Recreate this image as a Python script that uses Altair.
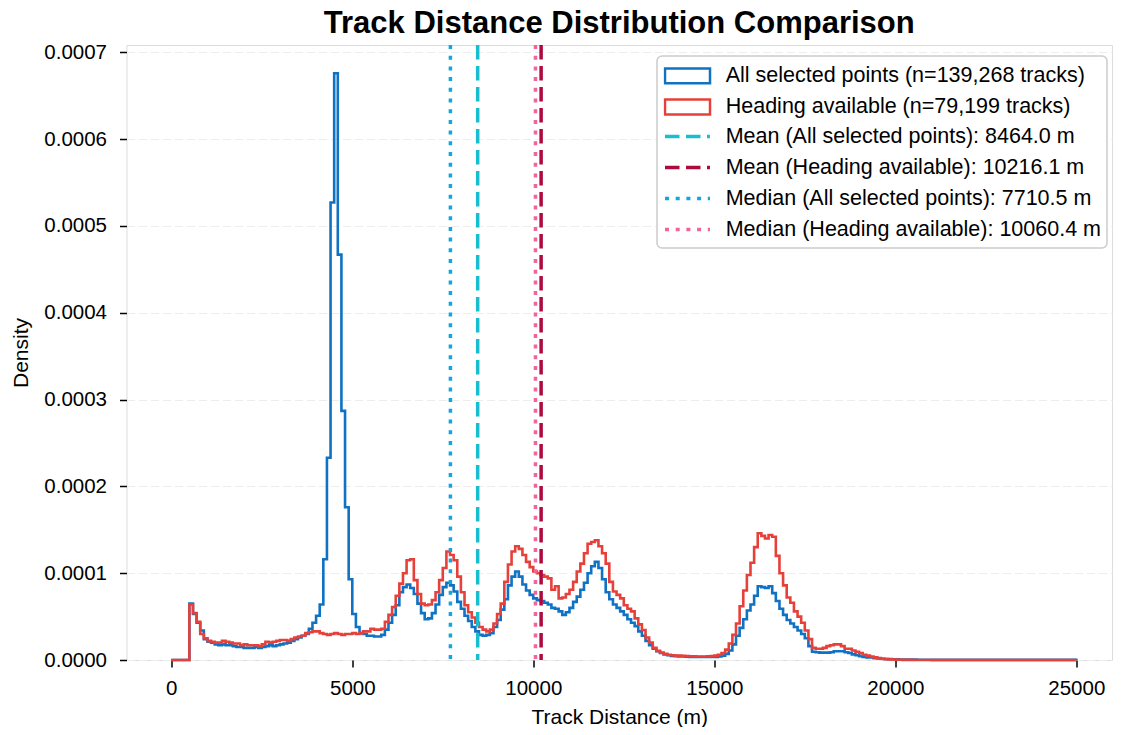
import altair as alt
import pandas as pd

FONT = "Liberation Sans"

# ---- data -------------------------------------------------------------
# histogram bin edges (m) : 250 bins of 100 m from 0 to 25000
bin_edges = list(range(0, 25001, 100))

# densities per bin, in units of 1e-5
all_selected_e5 = [
    0, 0, 0, 0, 0, 6.5, 5.3, 4.3, 3.4, 2.4,            # 0-900
    2.1, 2.0, 1.8, 1.7, 1.8, 1.7, 1.7, 1.6, 1.5, 1.5,  # 1000-1900
    1.4, 1.4, 1.4, 1.5, 1.4, 1.5, 1.6, 1.7, 1.6, 1.7,  # 2000-2900
    1.8, 1.9, 2.0, 2.2, 2.4, 2.6, 2.8, 3.0, 3.6, 4.3,  # 3000-3900
    5.1, 6.4, 11.6, 23.3, 52.7, 67.6, 46.7, 28.7, 17.6, 9.3,  # 4000-4900
    5.3, 3.8, 3.1, 3.0, 2.8, 2.8, 2.7, 2.7, 2.9, 3.5,  # 5000-5900
    4.3, 5.2, 6.3, 7.8, 8.4, 8.7, 8.3, 7.6, 6.5, 5.4,  # 6000-6900
    4.7, 4.8, 5.4, 6.4, 7.5, 8.4, 8.9, 8.6, 7.9, 6.7,  # 7000-7900
    5.9, 5.1, 4.5, 3.8, 3.3, 2.9, 2.8, 2.9, 3.1, 3.8,  # 8000-8900
    4.6, 5.8, 7.0, 8.6, 9.6, 10.2, 9.6, 8.7, 8.0, 7.5,  # 9000-9900
    7.1, 6.9, 6.8, 6.6, 6.4, 6.0, 5.9, 5.6, 5.2, 5.5,  # 10000-10900
    6.0, 6.7, 7.3, 8.1, 8.9, 10.0, 10.8, 11.3, 10.6, 9.3,  # 11000-11900
    7.8, 7.0, 6.4, 6.0, 5.6, 5.2, 4.7, 4.3, 3.9, 3.3,  # 12000-12900
    2.8, 2.2, 1.7, 1.3, 1.0, 0.8, 0.65, 0.55, 0.48, 0.45,  # 13000-13900
    0.42, 0.4, 0.38, 0.36, 0.35, 0.35, 0.34, 0.34, 0.34, 0.35,  # 14000-14900
    0.35, 0.4, 0.5, 0.7, 1.1, 1.8, 2.8, 3.7, 4.7, 5.7,  # 15000-15900
    6.4, 7.4, 8.5, 8.4, 8.3, 8.5, 7.7, 6.8, 5.9, 5.2,  # 16000-16900
    4.6, 4.2, 3.8, 3.4, 3.0, 2.5, 1.6, 0.95, 0.9, 0.85,  # 17000-17900
    0.85, 0.85, 0.9, 1.0, 1.0, 1.0, 0.9, 0.8, 0.65, 0.55,  # 18000-18900
    0.45, 0.35, 0.3, 0.28, 0.22, 0.18, 0.15, 0.12, 0.1, 0.08,  # 19000-19900
    0.07, 0.06, 0.05, 0.05, 0.04, 0.04, 0.03, 0.03, 0.03, 0.03,  # 20000-20900
    0.02, 0.02, 0.02, 0.02, 0.02, 0.02, 0.02, 0.02, 0.02, 0.02,  # 21000-21900
    0.02, 0.02, 0.02, 0.02, 0.01, 0.01, 0.01, 0.01, 0.01, 0.01,  # 22000-22900
    0.01, 0.01, 0.01, 0.01, 0.01, 0.01, 0.01, 0.01, 0.01, 0.01,  # 23000-23900
    0.01, 0.01, 0.01, 0.01, 0.01, 0.01, 0.01, 0.01, 0.01, 0.01,  # 24000-24900
]

heading_available_e5 = [
    0, 0, 0, 0, 0, 6.4, 5.4, 4.4, 3.0, 2.5,            # 0-900
    2.2, 2.1, 2.0, 2.0, 2.2, 2.1, 2.0, 1.9, 1.9, 1.7,  # 1000-1900
    1.8, 1.7, 1.7, 1.7, 1.6, 1.8, 2.1, 2.0, 2.1, 2.2,  # 2000-2900
    2.3, 2.3, 2.2, 2.4, 2.6, 2.7, 2.8, 3.1, 3.2, 3.3,  # 3000-3900
    3.3, 3.1, 3.0, 2.9, 3.0, 3.1, 3.0, 2.9, 3.0, 3.0,  # 4000-4900
    3.1, 3.0, 3.1, 3.3, 3.3, 3.6, 3.5, 3.5, 3.6, 4.4,  # 5000-5900
    5.2, 6.1, 7.4, 8.8, 10.0, 11.5, 11.6, 9.2, 7.6, 6.5,  # 6000-6900
    6.3, 6.4, 6.9, 7.8, 9.2, 10.6, 12.5, 12.1, 11.5, 9.6,  # 7000-7900
    7.8, 6.3, 5.5, 4.9, 4.3, 3.8, 3.5, 3.3, 3.5, 4.2,  # 8000-8900
    5.3, 6.5, 9.0, 11.0, 12.5, 13.1, 12.8, 12.1, 11.3, 10.7,  # 9000-9900
    10.2, 10.0, 9.8, 9.6, 9.4, 8.1, 8.5, 7.1, 7.2, 7.6,  # 10000-10900
    8.1, 9.0, 10.2, 11.1, 12.3, 13.4, 13.6, 13.8, 13.1, 12.3,  # 11000-11900
    11.1, 9.0, 7.9, 7.5, 7.1, 6.3, 5.9, 5.6, 4.8, 4.1,  # 12000-12900
    3.45, 2.6, 2.0, 1.4, 1.05, 0.85, 0.7, 0.6, 0.55, 0.5,  # 13000-13900
    0.5, 0.48, 0.45, 0.43, 0.42, 0.4, 0.4, 0.4, 0.42, 0.45,  # 14000-14900
    0.5, 0.6, 0.8, 1.2, 1.9, 2.9, 4.2, 6.2, 8.0, 9.8,  # 15000-15900
    11.2, 13.0, 14.6, 14.3, 14.0, 14.4, 14.2, 12.0, 10.0, 8.6,  # 16000-16900
    7.2, 6.6, 5.6, 5.0, 4.3, 3.4, 2.4, 1.4, 1.3, 1.3,  # 17000-17900
    1.4, 1.6, 1.7, 1.8, 1.8, 1.6, 1.3, 1.3, 1.1, 0.95,  # 18000-18900
    0.8, 0.6, 0.5, 0.4, 0.3, 0.22, 0.15, 0.1, 0.07, 0.05,  # 19000-19900
    0.04, 0.03, 0.02, 0.02, 0.01, 0, 0, 0, 0, 0,       # 20000-20900
    0, 0, 0, 0, 0, 0, 0, 0, 0, 0,                      # 21000-21900
    0, 0, 0, 0, 0, 0, 0, 0, 0, 0,                      # 22000-22900
    0, 0, 0, 0, 0, 0, 0, 0, 0, 0,                      # 23000-23900
    0, 0, 0, 0, 0, 0, 0, 0, 0, 0,                      # 24000-24900
]

series_names = [
    "All selected points (n=139,268 tracks)",
    "Heading available (n=79,199 tracks)",
]
series_colors = ["#0F72C2", "#E6403A"]

stat_labels = [
    "Mean (All selected points): 8464.0 m",
    "Mean (Heading available): 10216.1 m",
    "Median (All selected points): 7710.5 m",
    "Median (Heading available): 10060.4 m",
]
stat_values = [8464.0, 10216.1, 7710.5, 10060.4]
stat_colors = ["#17BECF", "#AD0A3E", "#12A6DC", "#F0649C"]
stat_dashes = [[14.5, 6.5], [14.5, 6.5], [4, 6.7], [4, 6.7]]

x_ticks = [0, 5000, 10000, 15000, 20000, 25000]
y_ticks = [0, 0.0001, 0.0002, 0.0003, 0.0004, 0.0005, 0.0006, 0.0007]

# ---- tables -----------------------------------------------------------
rows = []
for name, vals in zip(series_names, [all_selected_e5, heading_available_e5]):
    for i, v in enumerate(vals):
        rows.append({"edge": bin_edges[i], "density": v * 1e-5, "series": name})
    rows.append({"edge": bin_edges[-1], "density": 0.0, "series": name})
hist_df = pd.DataFrame(rows)
stats_df = pd.DataFrame({"label": stat_labels, "value": stat_values})

# ---- scales / axes ----------------------------------------------------
x_scale = alt.Scale(domain=[-1237, 25986], nice=False, zero=False)
y_scale = alt.Scale(domain=[0, 0.0007085], nice=False, zero=False)

x_axis = alt.Axis(
    values=x_ticks, format="d", title="Track Distance (m)", grid=False,
    domain=False, tickSize=7, tickWidth=1.5, tickColor="black",
    labelFontSize=20.5, labelPadding=11, labelFont=FONT, labelColor="black",
    titleFontSize=21, titleFont=FONT, titleColor="black", titleFontWeight="normal",
    titleY=63.5, titleBaseline="alphabetic",
)
y_axis = alt.Axis(
    values=y_ticks, format=".4f", title="Density", grid=True,
    gridDash=[8, 4], gridColor="#ededed", gridWidth=1,
    domain=False, tickSize=7, tickWidth=1.5, tickColor="black",
    labelFontSize=20.5, labelPadding=13, labelFont=FONT, labelColor="black",
    titleFontSize=21, titleFont=FONT, titleColor="black", titleFontWeight="normal",
    titleX=-99, titleY=307.5, titleAngle=-90, titleAlign="center",
    titleBaseline="alphabetic",
)

hist_legend = alt.Legend(
    orient="none", legendX=537, legendY=20.4, title=None,
    symbolType="M-1,-0.33L1,-0.33L1,0.33L-1,0.33Z", symbolSize=2025,
    symbolStrokeWidth=2.5, symbolFillColor="transparent",
    labelFontSize=21.5, labelFont=FONT, labelColor="black", labelLimit=600,
    clipHeight=21, rowPadding=9.1, labelOffset=14.2, padding=0, symbolOffset=0,
)
stat_legend = alt.Legend(
    orient="none", legendX=536.5, legendY=81, title=None,
    symbolType="stroke", symbolSize=2025, symbolStrokeWidth=3.5,
    labelFontSize=21.5, labelFont=FONT, labelColor="black", labelLimit=600,
    clipHeight=21, rowPadding=9.0, labelOffset=13.7, padding=0, symbolOffset=0,
)

color_hist = alt.Color("series:N", scale=alt.Scale(domain=series_names, range=series_colors),
                       legend=hist_legend)


def hist_line(name):
    return alt.Chart(hist_df).transform_filter(
        alt.datum.series == name
    ).mark_line(interpolate="step-after", strokeWidth=2.6).encode(
        x=alt.X("edge:Q", scale=x_scale, axis=x_axis),
        y=alt.Y("density:Q", scale=y_scale, axis=y_axis),
        color=color_hist,
    )


hist = alt.layer(hist_line(series_names[0]), hist_line(series_names[1]))

rules = alt.Chart(stats_df).mark_rule(strokeWidth=3.5).encode(
    x=alt.X("value:Q", scale=x_scale, axis=x_axis),
    color=alt.Color("label:N", scale=alt.Scale(domain=stat_labels, range=stat_colors),
                    legend=stat_legend),
    strokeDash=alt.StrokeDash("label:N", scale=alt.Scale(domain=stat_labels, range=stat_dashes),
                              legend=stat_legend),
)

frame = alt.Chart(pd.DataFrame({"k": [0]})).mark_rect(
    fill="white", stroke="#cccccc", strokeWidth=1.5, cornerRadius=5
).encode(
    x=alt.value(530.5), x2=alt.value(980.5), y=alt.value(11), y2=alt.value(203)
)

chart = alt.layer(hist, rules, frame).resolve_scale(
    color="independent", strokeDash="independent"
).properties(
    width=985.5,
    height=615,
    autosize=alt.AutoSizeParams(type="none"),
    padding={"left": 118.5, "top": 37, "right": 1, "bottom": 67},
    title=alt.Title(
        "Track Distance Distribution Comparison", fontSize=31, fontWeight="bold",
        font=FONT, color="black", anchor="middle", offset=2.6, frame="group",
    ),
).configure_view(
    stroke="black", strokeWidth=1.5
).configure(
    font=FONT, background="white"
)

chart.save("out.html", embed_options={"renderer": "svg", "actions": False})
